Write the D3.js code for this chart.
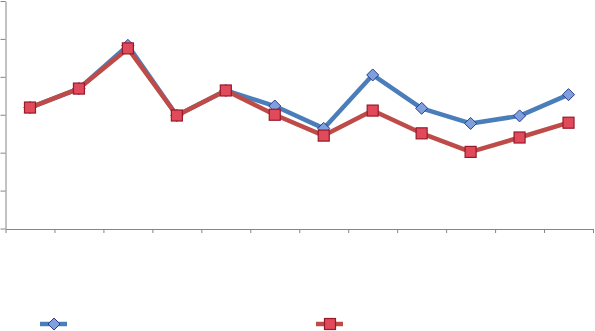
<!DOCTYPE html>
<html>
<head>
<meta charset="utf-8">
<script src="https://cdn.jsdelivr.net/npm/d3@7"></script>
<style>
  html, body { margin: 0; padding: 0; background: #fff; }
  svg { display: block; }
</style>
</head>
<body>
<svg id="chart" width="595" height="331"></svg>
<script>
// dữ liệu
const categories = ["1", "2", "3", "4", "5", "6", "7", "8", "9", "10", "11", "12"];
const seriesA = [3.19, 3.69, 4.83, 2.98, 3.64, 3.23, 2.64, 4.05, 3.17, 2.77, 2.97, 3.53];
const seriesB = [3.19, 3.69, 4.75, 2.98, 3.64, 3.00, 2.45, 3.11, 2.51, 2.02, 2.40, 2.79];
const yTicks = [0, 1, 2, 3, 4, 5, 6];

const svg = d3.select("#chart");
const plot = { left: 5.5, right: 593, top: 1, bottom: 228.5 };
const axisColor = "#868686";

const x = d3.scaleBand().domain(categories).range([plot.left, plot.right]).padding(0);
const xEdge = d3.scaleLinear().domain([0, categories.length]).range([plot.left, plot.right]);
const y = d3.scaleLinear().domain([0, 6]).range([plot.bottom, plot.top]);

// trục y bên trái
const yAxis = svg.append("g")
    .attr("transform", `translate(${plot.left},0)`)
    .call(d3.axisLeft(y).tickValues(yTicks).tickFormat("").tickSize(5).tickSizeOuter(0));
yAxis.select(".domain").attr("stroke", axisColor);
yAxis.selectAll(".tick line").attr("stroke", axisColor);

// trục x ở đáy, vạch chia nằm giữa các nhóm
const xAxis = svg.append("g")
    .attr("transform", `translate(0,${plot.bottom + 0.5})`)
    .call(d3.axisBottom(xEdge).ticks(categories.length).tickFormat("").tickSize(4).tickSizeOuter(0));
xAxis.select(".domain").attr("stroke", axisColor);
xAxis.selectAll(".tick line").attr("stroke", axisColor);

const cx = (d, i) => x(categories[i]) + x.bandwidth() / 2;
const line = d3.line().x(cx).y(d => y(d));

const styles = [
    { data: seriesA, stroke: "#4a7ebb", fill: "#7f9fdd", mstroke: "#2b3a8c", shape: "diamond" },
    { data: seriesB, stroke: "#be4b48", fill: "#e04a5a", mstroke: "#98192a", shape: "square" }
];

function drawMarker(g, shape, px, py, s) {
    if (shape === "diamond") {
        g.append("path")
            .attr("d", `M${px},${py - 6}L${px + 6},${py}L${px},${py + 6}L${px - 6},${py}Z`)
            .attr("fill", s.fill).attr("stroke", s.mstroke).attr("stroke-width", 1);
    } else {
        g.append("rect")
            .attr("x", px - 5.5).attr("y", py - 5.5)
            .attr("width", 11).attr("height", 11)
            .attr("fill", s.fill).attr("stroke", s.mstroke).attr("stroke-width", 1.2);
    }
}

styles.forEach(s => {
    const g = svg.append("g");
    g.append("path")
        .datum(s.data)
        .attr("d", line)
        .attr("fill", "none")
        .attr("stroke", s.stroke)
        .attr("stroke-width", 4.5)
        .attr("stroke-linejoin", "round");
    s.data.forEach((d, i) => drawMarker(g, s.shape, cx(d, i), y(d), s));
});

// chú thích
const legendPos = [{ x: 40, mid: 54 }, { x: 316, mid: 330 }];
styles.forEach((s, i) => {
    const g = svg.append("g");
    const lx = legendPos[i].x;
    g.append("line")
        .attr("x1", lx).attr("x2", lx + 27)
        .attr("y1", 324).attr("y2", 324)
        .attr("stroke", s.stroke).attr("stroke-width", 4.5);
    drawMarker(g, s.shape, legendPos[i].mid, 324, s);
});
</script>
</body>
</html>
